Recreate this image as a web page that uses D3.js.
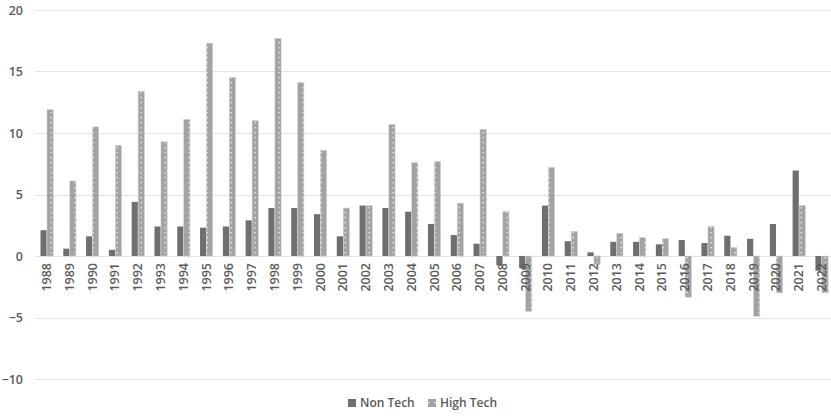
<!DOCTYPE html>
<html><head><meta charset="utf-8">
<script src="https://cdn.jsdelivr.net/npm/d3@7"></script>
<style>
body{margin:0;background:#fff;}
text{font-family:"Open Sans","Liberation Sans",sans-serif;}
</style></head>
<body>
<svg id="chart" width="831" height="416"></svg>
<script>
const years = ["1988","1989","1990","1991","1992","1993","1994","1995","1996","1997","1998","1999","2000","2001","2002","2003","2004","2005","2006","2007","2008","2009","2010","2011","2012","2013","2014","2015","2016","2017","2018","2019","2020","2021","2022"];
const nonTech = [2.1,0.6,1.6,0.5,4.4,2.4,2.4,2.3,2.4,2.9,3.9,3.9,3.4,1.6,4.1,3.9,3.6,2.6,1.7,1.0,-0.75,-1.0,4.1,1.2,0.3,1.15,1.15,0.95,1.3,1.05,1.65,1.4,2.6,6.95,-1.2];
const highTech = [11.9,6.1,10.5,9.0,13.4,9.3,11.1,17.3,14.5,11.0,17.7,14.1,8.6,3.9,4.1,10.7,7.6,7.7,4.3,10.3,3.6,-4.5,7.2,2.0,-0.7,1.85,1.5,1.4,-3.35,2.4,0.7,-4.9,-3.0,4.1,-3.0];
const yTicks = [-10,-5,0,5,10,15,20];
const seriesNames = ["Non Tech","High Tech"];

const svg = d3.select("#chart");
const defs = svg.append("defs");
const pat = defs.append("pattern").attr("id","dots").attr("patternUnits","userSpaceOnUse")
  .attr("width",6).attr("height",5);
pat.append("rect").attr("width",6).attr("height",5).attr("fill","#a3a3a3");
pat.append("rect").attr("x",2.5).attr("y",2).attr("width",1.3).attr("height",1.3).attr("fill","#f4f4f4");

const x = d3.scaleBand().domain(years).range([35.3,833]).paddingInner(0).paddingOuter(0);
const y = d3.scaleLinear().domain([-10,20]).range([379,10]);
const barW = 6.2;

// gridlines
svg.append("g").selectAll("line").data(yTicks).join("line")
  .attr("x1",35).attr("x2",831)
  .attr("y1",d=>Math.round(y(d))+0.5).attr("y2",d=>Math.round(y(d))+0.5)
  .attr("stroke","#e3e3e3").attr("stroke-width",1);

// y axis labels
const yAxis = d3.axisLeft(y).tickValues(yTicks).tickSize(0).tickPadding(0);
const yg = svg.append("g").attr("transform","translate(23,0)").call(yAxis);
yg.select(".domain").remove();
yg.selectAll("text").attr("font-size",12.5).attr("font-weight",600).attr("fill","#595959").attr("font-family","'Open Sans','Liberation Sans',sans-serif");

// bars
const cx = d => x(d) + x.bandwidth()/2;
svg.append("g").selectAll("rect").data(years).join("rect")
  .attr("x",d=>cx(d)-barW)
  .attr("width",barW)
  .attr("y",(d,i)=>y(Math.max(0,nonTech[i])))
  .attr("height",(d,i)=>Math.abs(y(nonTech[i])-y(0)))
  .attr("fill","#6f6f6f");
svg.append("g").selectAll("rect").data(years).join("rect")
  .attr("x",d=>cx(d)+0.3)
  .attr("width",barW)
  .attr("y",(d,i)=>y(Math.max(0,highTech[i])))
  .attr("height",(d,i)=>Math.abs(y(highTech[i])-y(0)))
  .attr("fill","url(#dots)")
  .attr("stroke","#cfcfcf").attr("stroke-width",0.6);

// x labels (rotated)
const xAxis = d3.axisBottom(x).tickSize(0).tickPadding(0);
const xg = svg.append("g").attr("transform",`translate(0,${y(0)})`).call(xAxis);
xg.select(".domain").remove();
xg.selectAll("text")
  .attr("font-size",12.5).attr("font-weight",600).attr("fill","#595959")
  .attr("font-family","'Open Sans','Liberation Sans',sans-serif")
  .attr("transform","rotate(-90)")
  .attr("text-anchor","end")
  .attr("x",-7).attr("y",0).attr("dy","0.35em");

// legend
const leg = svg.append("g");
const legItems = [{name:seriesNames[0],x:348,fill:"#6f6f6f"},{name:seriesNames[1],x:428,fill:"url(#dots)"}];
legItems.forEach(it=>{
  leg.append("rect").attr("x",it.x).attr("y",399).attr("width",8).attr("height",8).attr("fill",it.fill);
  leg.append("text").attr("x",it.x+12).attr("y",403).attr("dy","0.35em")
    .attr("font-size",12).attr("font-weight",600).attr("fill","#595959").text(it.name);
});
</script>
</body></html>
